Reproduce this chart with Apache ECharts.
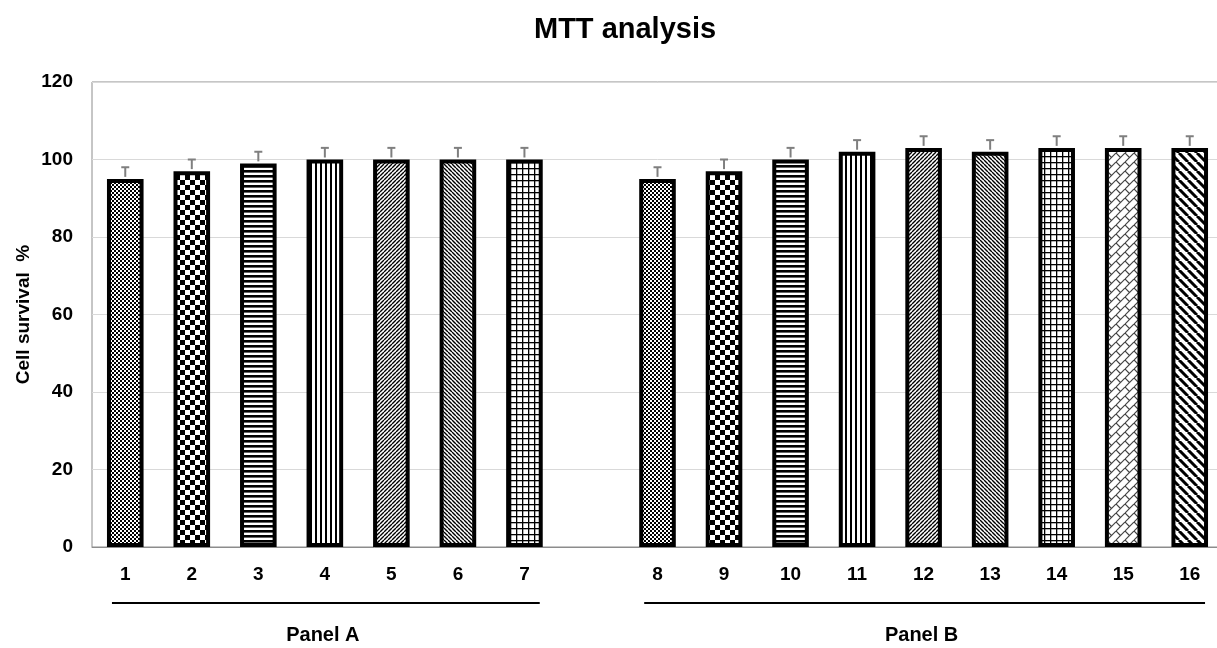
<!DOCTYPE html>
<html>
<head>
<meta charset="utf-8">
<script src="https://cdn.jsdelivr.net/npm/echarts@6/dist/echarts.min.js"></script>
<style>
html,body{margin:0;padding:0;background:#fff;overflow:hidden;}
#chart{width:1223px;height:648px;}
</style>
</head>
<body>
<div id="chart"></div>
<script>
// ---- data ----
const categories = ['1','2','3','4','5','6','7','','8','9','10','11','12','13','14','15','16'];
const survival   = [95, 97, 99, 100, 100, 100, 100, null, 95, 97, 100, 102, 103, 102, 103, 103, 103];
const errors     = [3, 3, 3, 3, 3, 3, 3, null, 3, 3, 3, 3, 3, 3, 3, 3, 3];
const patterns   = ['fineChecker','largeChecker','hLines','vLines','diagUp','diagDown','grid', null,
                    'fineChecker','largeChecker','hLines','vLines','diagUp','diagDown','grid','diagBrick','wideDiagDown'];
const panelNames = ['Panel A', 'Panel B'];
const panelRanges = [[0, 6], [8, 16]];
const yTicks = {min: 0, max: 120, interval: 20};

function makePattern(kind) {
  const c = document.createElement('canvas');
  const sizes = {fineChecker:4, largeChecker:10, hLines:5, vLines:5, diagUp:4, diagDown:4, grid:6, diagBrick:9, wideDiagDown:9};
  const s = sizes[kind] || 4;
  c.width = s; c.height = s;
  const ctx = c.getContext('2d');
  ctx.fillStyle = '#fff'; ctx.fillRect(0,0,s,s);
  ctx.fillStyle = '#000'; ctx.strokeStyle = '#000';
  const diag = (dir, lw, color) => {
    ctx.strokeStyle = color; ctx.lineWidth = lw; ctx.beginPath();
    for (let k = -1; k <= 1; k++) {
      const x = k * s;
      if (dir === 'up') { ctx.moveTo(x, s); ctx.lineTo(x + s, 0); }
      else { ctx.moveTo(x, 0); ctx.lineTo(x + s, s); }
    }
    ctx.stroke();
  };
  switch (kind) {
    case 'fineChecker': ctx.fillRect(0,0,2,2); ctx.fillRect(2,2,2,2); break;
    case 'largeChecker': ctx.fillRect(0,0,5,5); ctx.fillRect(5,5,5,5); break;
    case 'hLines': ctx.fillRect(0,0,s,2.6); break;
    case 'vLines': ctx.fillRect(0,0,2,s); break;
    case 'diagUp': diag('up', 1.4, '#000'); break;
    case 'diagDown': diag('down', 1.4, '#000'); break;
    case 'grid': ctx.fillRect(0,0,s,1.3); ctx.fillRect(0,0,1.3,s); break;
    case 'diagBrick':
      diag('up', 1.2, '#444');
      ctx.strokeStyle = '#444'; ctx.lineWidth = 1.2; ctx.beginPath();
      ctx.moveTo(0, 0); ctx.lineTo(s/2, s/2);
      ctx.stroke();
      break;
    case 'wideDiagDown': diag('down', 3, '#000'); break;
  }
  return {image: c, repeat: 'repeat'};
}

const barData = survival.map((v, i) => v == null ? '-' : {
  value: v,
  itemStyle: {color: makePattern(patterns[i]), borderColor: '#000', borderWidth: 4}
});
const errData = survival.map((v, i) => v == null ? [i, '-', '-'] : [i, v, errors[i]]);

const chart = echarts.init(document.getElementById('chart'), null, {renderer: 'canvas'});
const fontFamily = 'Liberation Sans, Arial, sans-serif';
chart.setOption({
  animation: false,
  backgroundColor: '#fff',
  title: {
    text: 'MTT analysis', left: 529, top: 10,
    textStyle: {fontFamily, fontSize: 29, fontWeight: 'bold', color: '#000'}
  },
  grid: {left: 92, top: 82, right: 0, bottom: 101, show: true, borderColor: '#8c8c8c', borderWidth: 1, containLabel: false},
  xAxis: {
    type: 'category', data: categories, boundaryGap: true,
    axisLine: {show: true, lineStyle: {color: '#8c8c8c', width: 1}},
    axisTick: {show: false},
    axisLabel: {fontFamily, fontSize: 19, fontWeight: 'bold', color: '#000', margin: 18, interval: 0}
  },
  yAxis: {
    type: 'value', min: yTicks.min, max: yTicks.max, interval: yTicks.interval,
    name: 'Cell survival  %', nameLocation: 'middle', nameGap: 59, nameMoveOverlap: false,
    nameTextStyle: {fontFamily, fontSize: 19, fontWeight: 'bold', color: '#000'},
    axisLine: {show: false}, axisTick: {show: false},
    axisLabel: {fontFamily, fontSize: 19, fontWeight: 'bold', color: '#000', margin: 19},
    splitLine: {lineStyle: {color: '#d9d9d9', width: 1}}
  },
  series: [
    {type: 'bar', data: barData, barWidth: '55%', z: 2},
    {
      type: 'custom', data: errData, encode: {x: 0, y: 1}, z: 3,
      renderItem: function (params, api) {
        const v = api.value(1), e = api.value(2);
        if (isNaN(v) || isNaN(e)) return null;
        const top = api.coord([api.value(0), v + e]);
        const base = api.coord([api.value(0), v]);
        const hw = 4;
        return {
          type: 'group',
          children: [
            {type: 'line', shape: {x1: base[0], y1: base[1] - 2, x2: top[0], y2: top[1]}, style: {stroke: '#7f7f7f', lineWidth: 2}},
            {type: 'line', shape: {x1: top[0] - hw, y1: top[1], x2: top[0] + hw, y2: top[1]}, style: {stroke: '#7f7f7f', lineWidth: 2}}
          ]
        };
      }
    }
  ]
});

// panel brackets below the axis, positioned from the category scale
const graphics = [];
const bw = chart.convertToPixel({xAxisIndex: 0}, 1) - chart.convertToPixel({xAxisIndex: 0}, 0);
panelRanges.forEach((r, k) => {
  const x1 = chart.convertToPixel({xAxisIndex: 0}, r[0]) - bw * 0.2;
  const x2 = chart.convertToPixel({xAxisIndex: 0}, r[1]) + bw * 0.23;
  graphics.push({type: 'line', shape: {x1, y1: 603, x2, y2: 603}, style: {stroke: '#000', lineWidth: 2}});
  graphics.push({type: 'text', x: (x1 + x2) / 2 - 3, y: 635, style: {text: panelNames[k], font: 'bold 20px Liberation Sans, Arial, sans-serif', fill: '#000', textAlign: 'center', textVerticalAlign: 'middle'}});
});
chart.setOption({graphic: graphics});
</script>
</body>
</html>
